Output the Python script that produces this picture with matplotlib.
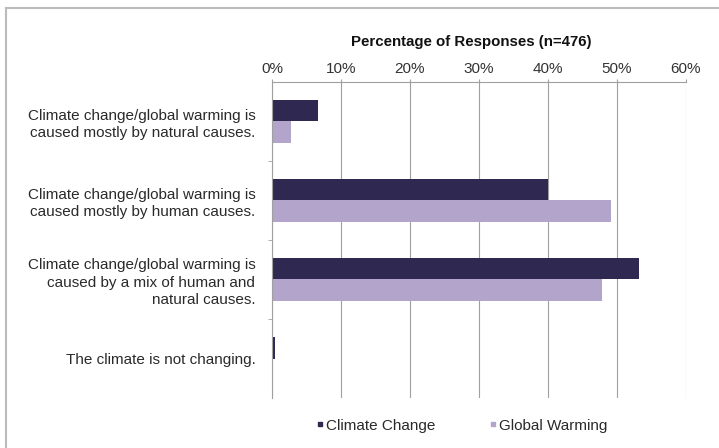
import numpy as np
import matplotlib as mpl
import matplotlib.pyplot as plt
from matplotlib.lines import Line2D

mpl.use("agg")

categories = [
    "Climate change/global warming is\ncaused mostly by natural causes.",
    "Climate change/global warming is\ncaused mostly by human causes.",
    "Climate change/global warming is\ncaused by a mix of human and\nnatural causes.",
    "The climate is not changing.",
]
climate_change = [6.7, 40.0, 53.2, 0.4]
global_warming = [2.7, 49.2, 47.8, 0.1]
xticks = [0, 10, 20, 30, 40, 50, 60]

dark = "#2f2850"
light = "#b3a4cb"
grid_col = "#a0a0a0"

plt.rcParams["font.family"] = ["Liberation Sans", "DejaVu Sans"]

fig = plt.figure(figsize=(7.19, 4.48), dpi=100)
ax = fig.add_axes([0.3783, 0.1116, 0.5757, 0.7054])

y = np.arange(len(categories))
h = 0.27
ax.barh(y - h / 2, climate_change, height=h, color=dark, label="Climate Change")
ax.barh(y + h / 2, global_warming, height=h, color=light, label="Global Warming")

ax.set_xlim(0, 60)
ax.set_ylim(3.5, -0.5)
ax.xaxis.tick_top()
ax.set_xticks(xticks)
ax.set_xticklabels([f"{t}%" for t in xticks], fontsize=11, color="#333333")
ax.tick_params(axis="x", length=2.5, color=grid_col, pad=1.5)
ax.grid(axis="x", color=grid_col, linewidth=0.8)
ax.set_axisbelow(True)

ax.set_yticks(y)
ax.set_yticklabels(categories, fontsize=11, color="#2a2a2a", linespacing=1.3)
ax.tick_params(axis="y", length=0, pad=12)
ax.set_yticks(np.arange(0.5, 3, 1), minor=True)
ax.tick_params(axis="y", which="minor", length=3, color=grid_col)

for s in ["right", "bottom"]:
    ax.spines[s].set_visible(False)
for s in ["top", "left"]:
    ax.spines[s].set_color(grid_col)
    ax.spines[s].set_linewidth(0.8)

fig.text(0.655, 0.906, "Percentage of Responses (n=476)", ha="center",
         va="center", fontsize=10.8, fontweight="bold", color="#111111")

handles = [
    Line2D([], [], marker="s", linestyle="none", markersize=3.5, color=dark),
    Line2D([], [], marker="s", linestyle="none", markersize=3.5, color=light),
]
fig.legend(handles, ["Climate Change", "Global Warming"], loc="center",
           bbox_to_anchor=(0.642, 0.05), ncol=2, frameon=False, fontsize=11,
           handlelength=0.5, handletextpad=0.15, columnspacing=3.5,
           labelcolor="#2a2a2a")

# outer frame (left and top edges visible)
fig.add_artist(Line2D([0.009, 0.009], [0, 0.982], color="#bbbbbb", lw=1.5,
                      transform=fig.transFigure))
fig.add_artist(Line2D([0.009, 1.0], [0.982, 0.982], color="#bbbbbb", lw=1.5,
                      transform=fig.transFigure))

fig.savefig("out.png", dpi=100, facecolor="white")
